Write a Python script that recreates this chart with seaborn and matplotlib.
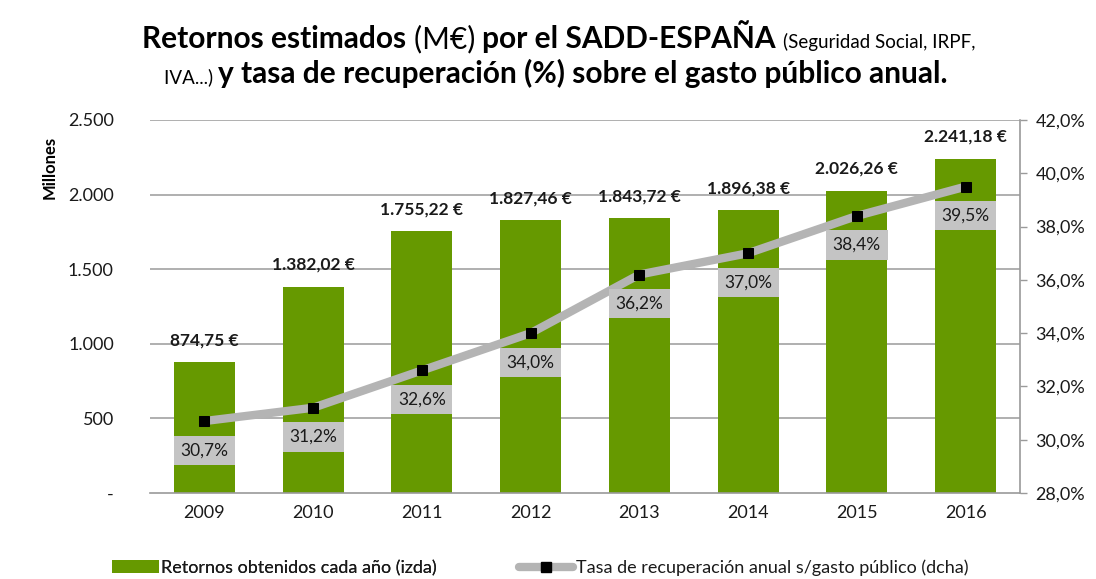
import matplotlib
matplotlib.use("Agg")
import matplotlib.pyplot as plt
import seaborn as sns
import numpy as np
import pandas as pd
from matplotlib.lines import Line2D
from matplotlib.patches import Patch

years = ["2009", "2010", "2011", "2012", "2013", "2014", "2015", "2016"]
retornos = [874.75, 1382.02, 1755.22, 1827.46, 1843.72, 1896.38, 2026.26, 2241.18]
retornos_labels = ["874,75 €", "1.382,02 €", "1.755,22 €", "1.827,46 €", "1.843,72 €",
                   "1.896,38 €", "2.026,26 €", "2.241,18 €"]
tasa = [30.7, 31.2, 32.6, 34.0, 36.2, 37.0, 38.4, 39.5]
tasa_labels = ["30,7%", "31,2%", "32,6%", "34,0%", "36,2%", "37,0%", "38,4%", "39,5%"]
left_ticks = [0, 500, 1000, 1500, 2000, 2500]
left_ticklabels = ["-", "500", "1.000", "1.500", "2.000", "2.500"]
right_ticks = [28, 30, 32, 34, 36, 38, 40, 42]
right_ticklabels = ["28,0%", "30,0%", "32,0%", "34,0%", "36,0%", "38,0%", "40,0%", "42,0%"]
legend_labels = ["Retornos obtenidos cada año (izda)",
                 "Tasa de recuperación anual s/gasto público (dcha)"]

sns.set_theme(style="white")
FONT = ["Lato", "DejaVu Sans"]
plt.rcParams["font.family"] = FONT

GREEN = "#669900"
LINEGRAY = "#b4b4b4"
TXT = "#1a1a1a"

W, H = 1096, 579
fig = plt.figure(figsize=(W / 100, H / 100), dpi=100)
ax = fig.add_axes([150 / W, 1 - 493 / H, (1020 - 150) / W, (493 - 120) / H])

df = pd.DataFrame({"year": years, "ret": retornos})
sns.barplot(data=df, x="year", y="ret", color=GREEN, saturation=1, width=0.56, ax=ax,
            edgecolor="none", zorder=2)
ax.set_xlim(-0.5, 7.5)
ax.set_ylim(0, 2500)
ax.set_yticks(left_ticks)
ax.set_yticklabels(left_ticklabels, fontsize=13, color=TXT)
ax.tick_params(axis="y", length=0, pad=26)
ax.tick_params(axis="x", length=0, pad=9, labelsize=13, labelcolor=TXT)
ax.set_xlabel("")
ax.set_ylabel("")
for y in left_ticks[1:]:
    ax.axhline(y, color="#9a9a9a", lw=1.1, zorder=1)
for s in ["top", "left", "right"]:
    ax.spines[s].set_visible(False)
ax.spines["bottom"].set_color("#9a9a9a")
ax.spines["bottom"].set_linewidth(1.2)

for i, (v, lab) in enumerate(zip(retornos, retornos_labels)):
    ax.annotate(lab, (i, v), xytext=(0, 10), textcoords="offset points", ha="center",
                va="bottom", fontsize=12.5, fontweight="bold", color=TXT)

ax2 = ax.twinx()
ax2.set_ylim(28, 42)
ax2.set_yticks(right_ticks)
ax2.set_yticklabels(right_ticklabels, fontsize=13, color=TXT)
ax2.tick_params(axis="y", length=5, width=1, color="#9a9a9a", pad=6)
for s in ["top", "left", "bottom"]:
    ax2.spines[s].set_visible(False)
ax2.spines["right"].set_color("#9a9a9a")
ax2.spines["right"].set_linewidth(1.2)
xs = np.arange(len(years))
sns.lineplot(x=xs, y=tasa, ax=ax2, color=LINEGRAY, lw=6, marker="s", markersize=7,
             markerfacecolor="black", markeredgecolor="black", zorder=3)
ax2.set_xlim(-0.5, 7.5)
for i, (v, lab) in enumerate(zip(tasa, tasa_labels)):
    ax2.annotate(lab, (i, v), xytext=(0, -21), textcoords="offset points", ha="center",
                 va="center", fontsize=12.5, color=TXT,
                 bbox=dict(boxstyle="square,pad=0.38", fc="#c4c4c4", ec="none"))

fig.text(50 / W, 1 - 167 / H, "Millones", rotation=90, ha="center", va="center",
         fontsize=12, fontweight="bold", color="black")

# Legend (two entries placed separately)
h1 = [Patch(facecolor=GREEN, edgecolor="none")]
h2 = [Line2D([0], [0], color=LINEGRAY, lw=6, marker="s", markersize=7,
             markerfacecolor="black", markeredgecolor="black")]
leg1 = fig.legend(h1, legend_labels[:1], loc="center left",
                  bbox_to_anchor=(96 / W, 1 - 568 / H), frameon=False, fontsize=13,
                  handlelength=2.6, handletextpad=0.1, labelcolor=TXT)
fig.add_artist(leg1)
fig.legend(h2, legend_labels[1:], loc="center left",
           bbox_to_anchor=(503 / W, 1 - 568 / H), frameon=False, fontsize=13,
           handlelength=3.0, handletextpad=0.15, labelcolor=TXT)

# Title with mixed sizes
fig.canvas.draw()
renderer = fig.canvas.get_renderer()

def draw_line(pieces, ybase, xcenter):
    texts = []
    for txt, size, weight in pieces:
        t = fig.text(0, 1 - ybase / H, txt, fontsize=size, fontweight=weight,
                     ha="left", va="baseline", color="black")
        texts.append(t)
    widths = [t.get_window_extent(renderer=renderer).width for t in texts]
    total = sum(widths)
    x0 = xcenter - total / 2
    for t, w in zip(texts, widths):
        t.set_x(x0 / W)
        x0 += w

line1 = [("Retornos estimados ", 21.5, "bold"), ("(M€) ", 21.5, "normal"),
         ("por el SADD-ESPAÑA ", 21.5, "bold"), ("(Seguridad Social, IRPF,", 13.5, "normal")]
line2 = [("IVA...) ", 13.5, "normal"),
         ("y tasa de recuperación (%) sobre el gasto público anual.", 21.5, "bold")]
draw_line(line1, 48, 559)
draw_line(line2, 83, 556)

fig.savefig("out.png", dpi=100, facecolor="white")
